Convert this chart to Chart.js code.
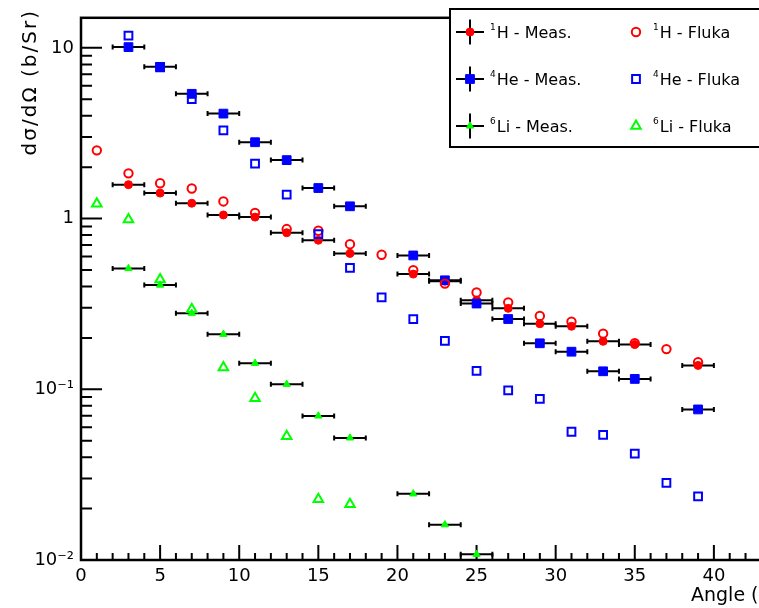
<!DOCTYPE html>
<html><head><meta charset="utf-8">
<script src="https://cdn.jsdelivr.net/npm/chart.js@4/dist/chart.umd.min.js"></script>
<style>
html,body{margin:0;padding:0;background:#fff;overflow:hidden;width:759px;height:608px}
#wrap{position:absolute;left:0;top:0;width:830px;height:608px}
</style>
</head><body><div id="wrap"><canvas id="c" width="830" height="608"></canvas></div>
<script>
// ---- data ----
const measAngles = [3,5,7,9,11,13,15,17,21,23,25,27,29,31,33,35,39];
const hMeas  = [1.58,1.41,1.23,1.05,1.02,0.826,0.747,0.625,0.473,0.43,0.332,0.298,0.242,0.234,0.191,0.183,0.138];
const heMeas = [10.1,7.74,5.38,4.12,2.80,2.20,1.51,1.18,0.608,0.435,0.318,0.258,0.186,0.166,0.1275,0.115,0.0762];
const liMeasAngles = [3,5,7,9,11,13,15,17,21,23,25];
const liMeas = [0.51,0.408,0.279,0.210,0.142,0.107,0.0698,0.0519,0.0244,0.0161,0.0108];
const hFlukaAngles = [1,3,5,7,9,11,13,15,17,19,21,23,25,27,29,31,33,35,37,39];
const hFluka = [2.51,1.84,1.61,1.50,1.26,1.08,0.868,0.848,0.708,0.614,0.499,0.416,0.369,0.323,0.269,0.249,0.212,0.186,0.172,0.144];
const heFlukaAngles = [3,5,7,9,11,13,15,17,19,21,23,25,27,29,31,33,35,37,39];
const heFluka = [11.8,7.7,5.01,3.29,2.10,1.38,0.81,0.515,0.345,0.258,0.192,0.128,0.0986,0.088,0.0564,0.054,0.042,0.0283,0.0236];
const liFlukaAngles = [1,3,5,7,9,11,13,15,17];
const liFluka = [1.22,0.987,0.44,0.294,0.134,0.0887,0.0531,0.0227,0.0212];
const angleErr = 1;
const xTickValues = [0,5,10,15,20,25,30,35,40];
const yTickValues = [0.01,0.1,1,10];
const yTickLabels = ['10\u207B\u00B2','10\u207B\u00B9','1','10'];
const xTitle = 'Angle (deg)';
const yTitle = 'd\u03C3/d\u03A9 (b/Sr)';
const legendNames = [['1','H - Meas.'],['4','He - Meas.'],['6','Li - Meas.'],['1','H - Fluka'],['4','He - Fluka'],['6','Li - Fluka']];

const FONT = "'DejaVu Sans', sans-serif";
const RED='#ff0000', BLUE='#0000ff', GREEN='#00ff00';
const pts = (xs, ys) => xs.map((a,i)=>({x:a,y:ys[i]}));

const styles = [
  {label:'1H - Meas.', data:pts(measAngles,hMeas), pointStyle:'circle', pointRadius:4, backgroundColor:RED, borderColor:RED, borderWidth:1, xErr:angleErr, order:6},
  {label:'4He - Meas.', data:pts(measAngles,heMeas), pointStyle:'rect', pointRadius:6.2, backgroundColor:BLUE, borderColor:BLUE, borderWidth:1, xErr:angleErr, order:5},
  {label:'6Li - Meas.', data:pts(liMeasAngles,liMeas), pointStyle:'triangle', pointRadius:4.2, backgroundColor:GREEN, borderColor:GREEN, borderWidth:1, xErr:angleErr, order:4},
  {label:'1H - Fluka', data:pts(hFlukaAngles,hFluka), pointStyle:'circle', pointRadius:4.2, backgroundColor:'rgba(0,0,0,0)', borderColor:RED, borderWidth:2, order:3},
  {label:'4He - Fluka', data:pts(heFlukaAngles,heFluka), pointStyle:'rect', pointRadius:5.5, backgroundColor:'rgba(0,0,0,0)', borderColor:BLUE, borderWidth:2, order:2},
  {label:'6Li - Fluka', data:pts(liFlukaAngles,liFluka), pointStyle:'triangle', pointRadius:5.5, backgroundColor:'rgba(0,0,0,0)', borderColor:GREEN, borderWidth:2, order:1}
];
styles.forEach(d=>{d.showLine=false; d.pointHoverRadius=d.pointRadius;});

const errPlugin = {
  id:'errbars',
  beforeDatasetDraw(chart, args){
    const ds = chart.data.datasets[args.index];
    if(!ds.xErr) return;
    const xs = chart.scales.x, ys = chart.scales.y, ctx = chart.ctx;
    ctx.save(); ctx.strokeStyle='#000'; ctx.lineWidth=2;
    ds.data.forEach(p=>{
      const x0 = xs.getPixelForValue(p.x-ds.xErr), x1 = xs.getPixelForValue(p.x+ds.xErr), y = ys.getPixelForValue(p.y);
      ctx.beginPath();
      ctx.moveTo(x0,y); ctx.lineTo(x1,y);
      ctx.moveTo(x0,y-2.5); ctx.lineTo(x0,y+2.5);
      ctx.moveTo(x1,y-2.5); ctx.lineTo(x1,y+2.5);
      ctx.stroke();
    });
    ctx.restore();
  }
};

const framePlugin = {
  id:'frame',
  beforeDatasetsDraw(chart){
    const {ctx, chartArea:a, scales:{x,y}} = chart;
    ctx.save(); ctx.strokeStyle='#000'; ctx.lineWidth=2;
    ctx.beginPath();
    for(let v=0; v<=45; v++){
      const px = x.getPixelForValue(v), len = (v%5===0)?15:7;
      ctx.moveTo(px,a.bottom); ctx.lineTo(px,a.bottom-len);
    }
    for(let d=-2; d<=1; d++){
      for(let m=1; m<=9; m++){
        const v = m*Math.pow(10,d); if(v>y.max) break;
        const py = y.getPixelForValue(v), len = (m===1)?21:11;
        ctx.moveTo(a.left,py); ctx.lineTo(a.left+len,py);
      }
    }
    ctx.stroke(); ctx.restore();
  },
  afterDraw(chart){
    const {ctx, chartArea:a} = chart;
    ctx.save(); ctx.strokeStyle='#000'; ctx.lineWidth=2.5;
    ctx.strokeRect(a.left, a.top, a.right-a.left, a.bottom-a.top);
    // axis titles
    ctx.fillStyle='#000';
    ctx.font = "19px "+FONT; ctx.textAlign='left'; ctx.textBaseline='alphabetic';
    ctx.fillText(xTitle, 691, 601);
    ctx.translate(31, 9); ctx.rotate(-Math.PI/2);
    ctx.font = "20px "+FONT; ctx.textAlign='right'; ctx.textBaseline='middle';
    try{ ctx.letterSpacing='2px'; }catch(e){}
    ctx.fillText(yTitle, 0, 0);
    ctx.restore();
    // legend
    ctx.save();
    const L=450, T=9, B=147, R=chart.width+10;
    ctx.fillStyle='#fff'; ctx.fillRect(L,T,R-L,B-T);
    ctx.strokeStyle='#000'; ctx.lineWidth=2; ctx.strokeRect(L,T,R-L,B-T);
    const rows=[32,79,126], cols=[470,636];
    chart.data.datasets.forEach((ds,i)=>{
      const col = i<3?0:1, row = i%3, cx = cols[col], cy = rows[row];
      if(ds.xErr){
        ctx.strokeStyle='#000'; ctx.lineWidth=2; ctx.beginPath();
        ctx.moveTo(cx-14,cy); ctx.lineTo(cx+14,cy); ctx.moveTo(cx,cy-12.5); ctx.lineTo(cx,cy+12.5); ctx.stroke();
      }
      ctx.fillStyle=ds.backgroundColor; ctx.strokeStyle=ds.borderColor; ctx.lineWidth=ds.borderWidth;
      Chart.helpers.drawPoint(ctx,{pointStyle:ds.pointStyle, radius:ds.pointRadius, rotation:0, borderWidth:ds.borderWidth}, cx, cy);
      const [sup, txt] = legendNames[i];
      const tx = col===0?490:653;
      ctx.fillStyle='#000'; ctx.textAlign='left'; ctx.textBaseline='alphabetic';
      ctx.font = "9px "+FONT; ctx.fillText(sup, tx, cy-2);
      const w = ctx.measureText(sup).width;
      ctx.font = "16px "+FONT; ctx.fillText(txt, tx+w+1, cy+6);
    });
    ctx.restore();
  }
};

new Chart(document.getElementById('c'), {
  type:'scatter',
  data:{datasets:styles},
  options:{
    responsive:false, animation:false, devicePixelRatio:1,
    layout:{padding:{left:0,right:37,top:9,bottom:0}},
    plugins:{legend:{display:false}, tooltip:{enabled:false}},
    scales:{
      x:{type:'linear', min:0, max:45,
        afterFit(s){ s.height=48; },
        afterBuildTicks(s){ s.ticks = xTickValues.map(v=>({value:v})); },
        grid:{display:false, drawTicks:false}, border:{display:false},
        ticks:{color:'#000', font:{family:FONT, size:18}, padding:6, maxRotation:0, autoSkip:false}
      },
      y:{type:'logarithmic', min:0.01, max:15,
        afterFit(s){ s.width=81; },
        afterBuildTicks(s){ s.ticks = yTickValues.map(v=>({value:v})); },
        grid:{display:false, drawTicks:false}, border:{display:false},
        ticks:{color:'#000', font:{family:FONT, size:18}, padding:7, autoSkip:false,
          callback:(v)=>{ const i=yTickValues.findIndex(t=>Math.abs(t-v)/t<1e-6); return i>=0?yTickLabels[i]:''; }}
      }
    }
  },
  plugins:[errPlugin, framePlugin]
});
</script>
</body></html>
